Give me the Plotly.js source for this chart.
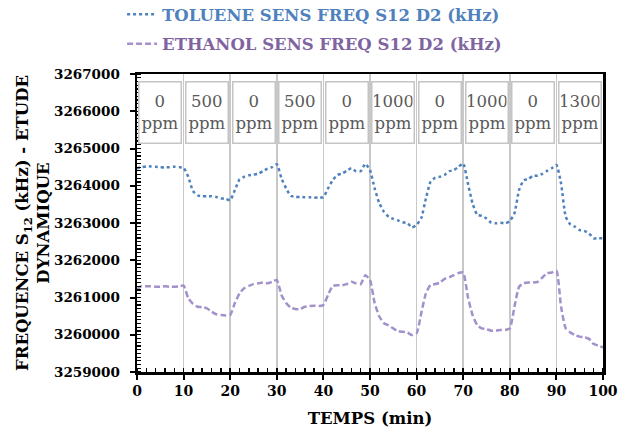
<!DOCTYPE html>
<html>
<head>
<meta charset="utf-8">
<script src="https://cdn.plot.ly/plotly-3.0.1.min.js"></script>
<style>html,body{margin:0;padding:0;background:#fff;}#chart{width:625px;height:432px;}</style>
</head>
<body>
<div id="chart"></div>
<script>
// Time in minutes
const temps = [];
for (let i = 0; i <= 100; i++) temps.push(i);

const toluene = [
3264470,3264500,3264520,3264520,3264510,3264500,3264490,3264500,3264510,3264500,
3264480,3264240,3263860,3263740,3263720,3263720,3263720,3263700,3263660,3263650,
3263610,3263880,3264170,3264240,3264280,3264300,3264320,3264390,3264460,3264500,
3264580,3264200,3263930,3263730,3263700,3263700,3263690,3263690,3263680,3263690,
3263690,3263930,3264150,3264290,3264330,3264400,3264470,3264390,3264390,3264590,
3264420,3263930,3263530,3263300,3263170,3263110,3263070,3263020,3263000,3262880,
3262950,3263130,3263660,3264110,3264220,3264240,3264290,3264390,3264420,3264510,
3264600,3264070,3263530,3263220,3263190,3263120,3263010,3262990,3263010,3262990,
3263050,3263260,3263890,3264150,3264180,3264270,3264270,3264320,3264400,3264470,
3264560,3264060,3263170,3262960,3262900,3262810,3262790,3262720,3262590,3262590,
3262590];

const ethanol = [
3261220,3261310,3261300,3261300,3261290,3261290,3261300,3261290,3261290,3261300,
3261320,3260980,3260830,3260750,3260740,3260710,3260620,3260550,3260530,3260520,
3260530,3260850,3261110,3261250,3261310,3261360,3261380,3261400,3261380,3261420,
3261470,3261070,3260850,3260730,3260690,3260690,3260750,3260770,3260780,3260770,
3260800,3261070,3261310,3261330,3261330,3261360,3261420,3261380,3261360,3261600,
3261470,3260850,3260490,3260310,3260250,3260170,3260100,3260080,3260060,3259990,
3260040,3260580,3261110,3261340,3261360,3261400,3261500,3261540,3261600,3261660,
3261670,3261020,3260530,3260260,3260170,3260150,3260110,3260110,3260130,3260130,
3260170,3260750,3261290,3261380,3261400,3261400,3261420,3261540,3261650,3261670,
3261720,3260750,3260170,3260060,3259990,3259950,3259930,3259890,3259750,3259710,
3259660];

const concentrations = ['0','500','0','500','0','1000','0','1000','0','1300'];
const concentrationCenters = [5,15,25,35,45,55,65,75,85,95];
const yTickVals = [3259000,3260000,3261000,3262000,3263000,3264000,3265000,3266000,3267000];
const xTickVals = [0,10,20,30,40,50,60,70,80,90,100];

const serif = 'DejaVu Serif';
const blue = '#4F81BD';
const purpleText = '#8064A2';
const purpleLine = '#A391CC';

const traces = [
  {
    x: temps, y: toluene, type: 'scatter', mode: 'lines', legendgroup: 'a',
    name: '<span style="color:' + blue + '">TOLUENE SENS FREQ S12 D2 (kHz)</span>',
    line: {color: blue, width: 2.5, dash: 'dot', shape: 'spline', smoothing: 0.5}
  },
  {
    x: temps, y: ethanol, type: 'scatter', mode: 'lines', legendgroup: 'b',
    name: '<span style="color:' + purpleText + '">ETHANOL SENS FREQ S12 D2 (kHz)</span>',
    line: {color: purpleLine, width: 2.5, dash: '6px,3px', shape: 'spline', smoothing: 0.5}
  }
];

const annotations = concentrations.map((c, i) => ({
  x: concentrationCenters[i], xref: 'x',
  y: 0.975, yref: 'paper', yanchor: 'top',
  text: c + '<br>ppm', showarrow: false,
  font: {family: serif, size: 16.5, color: '#595959'},
  bordercolor: '#c4c4c4', borderwidth: 1.5, bgcolor: '#ffffff',
  width: 39, height: 58, align: 'center', valign: 'middle'
}));

const layout = {
  width: 625, height: 432,
  margin: {l: 137, r: 22, t: 74, b: 60, autoexpand: false},
  paper_bgcolor: '#ffffff', plot_bgcolor: '#ffffff',
  font: {family: serif, color: '#000000'},
  showlegend: true,
  legend: {
    orientation: 'v', x: -0.032, xanchor: 'left', y: 1.258, yanchor: 'top',
    font: {family: serif, size: 16.5, weight: 'bold'}, bgcolor: 'rgba(0,0,0,0)',
    itemwidth: 30, tracegroupgap: 5
  },
  xaxis: {
    range: [0, 100], tickvals: xTickVals,
    showgrid: true, gridcolor: '#c8c8c8', gridwidth: 1.5,
    showline: true, linecolor: '#000000', linewidth: 2.5, mirror: true,
    ticks: 'outside', ticklen: 5, tickwidth: 2, tickcolor: '#000000',
    minor: {dtick: 2, ticks: 'inside', ticklen: 4, tickwidth: 1.5, tickcolor: '#000000', showgrid: false},
    tickfont: {family: serif, size: 14, weight: 'bold', color: '#000000'},
    title: {text: 'TEMPS (min)', font: {family: serif, size: 16.5, weight: 'bold', color: '#000000'}, standoff: 14},
    zeroline: false, fixedrange: true, automargin: false
  },
  yaxis: {
    range: [3259000, 3267000], tickvals: yTickVals, ticktext: yTickVals.map(String),
    showgrid: false,
    showline: true, linecolor: '#000000', linewidth: 2.5, mirror: true,
    ticks: 'outside', ticklen: 5, tickwidth: 2, tickcolor: '#000000',
    ticklabelstandoff: 7,
    minor: {dtick: 100, ticks: 'inside', ticklen: 4, tickwidth: 1.2, tickcolor: '#000000', showgrid: false},
    tickfont: {family: serif, size: 13.5, weight: 'bold', color: '#000000'},
    title: {text: 'FREQUENCE S<sub>12</sub> (kHz) - ETUDE<br>DYNAMIQUE', font: {family: serif, size: 16.5, weight: 'bold', color: '#000000'}, standoff: 0},
    zeroline: false, fixedrange: true, automargin: false
  },
  annotations: annotations
};

Plotly.newPlot('chart', traces, layout, {displayModeBar: false, staticPlot: true});
</script>
</body>
</html>
